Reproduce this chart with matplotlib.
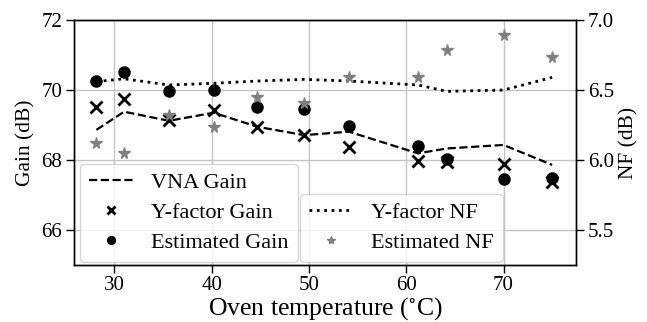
import matplotlib
matplotlib.use("Agg")
import matplotlib.pyplot as plt

plt.rcParams['font.family'] = ['Liberation Serif', 'DejaVu Serif']
plt.rcParams['mathtext.fontset'] = 'stix'

temps = [28.15, 31.0, 35.6, 40.2, 44.7, 49.5, 54.1, 61.2, 64.2, 70.0, 75.0]
vna_gain = [68.86, 69.38, 69.12, 69.35, 68.95, 68.71, 68.81, 68.19, 68.33, 68.43, 67.86]
yfactor_gain = [69.51, 69.73, 69.15, 69.42, 68.95, 68.71, 68.36, 67.97, 67.95, 67.89, 67.38]
est_gain = [70.27, 70.52, 69.97, 70.0, 69.52, 69.45, 68.97, 68.4, 68.02, 67.45, 67.49]
yfactor_nf = [6.56, 6.58, 6.536, 6.548, 6.564, 6.576, 6.564, 6.536, 6.49, 6.5, 6.59]
est_nf = [6.12, 6.048, 6.32, 6.233, 6.45, 6.405, 6.595, 6.59, 6.786, 6.893, 6.733]

fig = plt.figure(figsize=(6.47, 3.22), dpi=100)
ax1 = fig.add_axes([74/647, 57/322, 502/647, 245/322])
ax2 = ax1.twinx()

l1, = ax1.plot(temps, vna_gain, '--', color='black', lw=1.6, label='VNA Gain')
l2, = ax1.plot(temps, yfactor_gain, 'x', color='black', ms=8.5, mew=2, label='Y-factor Gain')
l3, = ax1.plot(temps, est_gain, 'o', color='black', ms=8, label='Estimated Gain')
l4, = ax2.plot(temps, yfactor_nf, ':', color='black', lw=2, label='Y-factor NF')
l5, = ax2.plot(temps, est_nf, '*', color='gray', ms=8.5, label='Estimated NF')

ax1.set_xlim(25.85, 77.45)
ax1.set_ylim(65, 72)
ax1.set_yticks([66, 68, 70, 72])
ax2.set_ylim(5.25, 7.0)
ax2.set_yticks([5.5, 6.0, 6.5, 7.0])
ax1.set_xticks([30, 40, 50, 60, 70])
ax1.grid(True, color='#c4c4c4', lw=1)

for ax in (ax1, ax2):
    ax.tick_params(labelsize=15, length=5.5, width=1, pad=3)
    for s in ax.spines.values():
        s.set_linewidth(1.0)
ax1.tick_params(axis='x', pad=2.5)
ax1.set_ylabel('Gain (dB)', fontsize=15.5, labelpad=4)
ax2.set_ylabel('NF (dB)', fontsize=15.5, labelpad=4)
ax1.set_xlabel(r'Oven temperature ($^{\circ}$C)', fontsize=18.5, labelpad=0)

leg1 = ax1.legend(handles=[l1, l2, l3], loc='lower left',
                  bbox_to_anchor=(0.012, 0.013), borderaxespad=0,
                  fontsize=16, markerscale=0.7, labelspacing=0.42,
                  handlelength=2.0)
ax2.legend(handles=[l4, l5], loc='lower left',
           bbox_to_anchor=(0.45, 0.013), borderaxespad=0,
           fontsize=16, markerscale=0.7, labelspacing=0.42,
           handlelength=2.0)

fig.savefig('out.png', dpi=100)
